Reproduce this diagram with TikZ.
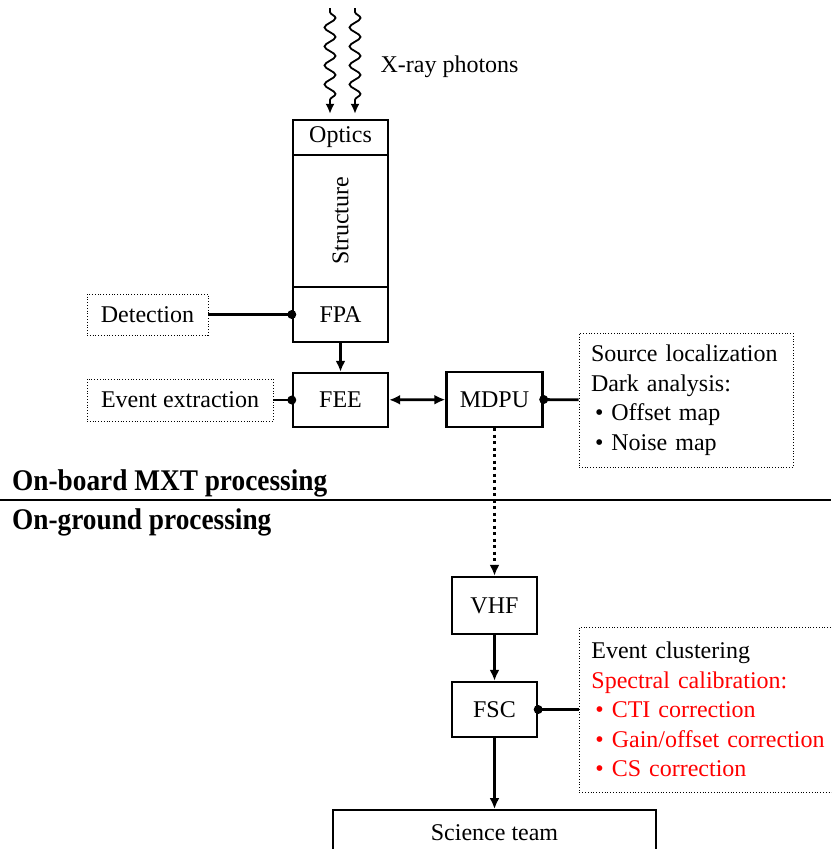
\documentclass[tikz,border=0pt]{standalone}
\usepackage{fontspec}
\setmainfont{Liberation Serif}
\newfontfamily\headfont[FakeStretch=0.91]{Liberation Serif}
\usetikzlibrary{arrows.meta,positioning,decorations.pathmorphing}

\begin{document}
\begin{tikzpicture}[
    x=1pt,y=-1pt,
    font=\fontsize{24}{29.5}\selectfont,
    block/.style={draw,line width=2.4pt,inner sep=0pt,minimum width=95pt},
    note/.style={draw,dotted,line width=0.8pt,inner sep=0pt},
    link/.style={line width=2.8pt},
    flow/.style={line width=2.8pt,-{Latex[length=11pt,width=10pt]}},
    photon/.style={line width=1.8pt,shorten >=5pt,
        decoration={snake,amplitude=5.5pt,segment length=19pt,pre length=4pt,post length=11pt},
        decorate,-{Latex[length=10pt,width=9pt]}},
    head/.style={anchor=base west,inner sep=0pt,font=\headfont\fontsize{30}{32}\selectfont\bfseries},
]
    \path[use as bounding box,clip] (0,0) rectangle (831,849);

    % instrument chain
    \node[block,minimum height=35pt] (optics) at (340.5,137.5) {Optics};
    \node[block,rotate=90,minimum width=132pt,minimum height=95pt] (structure)
        at (340.5,221) {Structure};
    \node[block,minimum height=55pt] (fpa) at (340.5,314.5) {FPA};
    \node[block,minimum height=54pt] (fee) at (340.5,400) {FEE};
    \node[block,minimum width=96pt,minimum height=55pt] (mdpu) at (494.5,399.5) {MDPU};
    \node[block,minimum width=85pt,minimum height=57pt] (vhf) at (494.5,605.5) {VHF};
    \node[block,minimum width=85pt,minimum height=55pt] (fsc) at (494.5,709.5) {FSC};
    \node[block,anchor=north,minimum width=323pt,minimum height=44pt] (science)
        at (494.5,809) {Science team};

    % side notes
    \node[note,minimum width=121pt,minimum height=41pt] (detection) at (147.5,314.5) {Detection};
    \node[note,minimum width=186pt,minimum height=42pt] (extraction) at (180,400) {Event extraction};
    \node[note,inner xsep=12pt,text width=190pt,minimum height=134pt,align=left] (dark)
        at (686,400) {Source localization\\Dark analysis:\\
        \hspace{4pt}\textbullet\ Offset map\\\hspace{4pt}\textbullet\ Noise map};
    \node[note,anchor=west,inner xsep=12pt,text width=260pt,minimum height=165pt,align=left] (calib)
        at (579,709.5) {Event clustering\\\textcolor{red}{Spectral calibration:}\\
        \textcolor{red}{\hspace{4pt}\textbullet\ CTI correction}\\
        \textcolor{red}{\hspace{4pt}\textbullet\ Gain/offset correction}\\
        \textcolor{red}{\hspace{4pt}\textbullet\ CS correction}};

    % incoming photons
    \coordinate (ray1) at (330,8);
    \coordinate (ray2) at (355,8);
    \draw[photon] (ray1) -- (ray1 |- optics.north);
    \draw[photon] (ray2) -- (ray2 |- optics.north);
    \node[anchor=base west] (xray) at (377,72) {X-ray photons};

    % connections
    \draw[link] (detection) -- (fpa);
    \fill (fpa.west) circle (4.5pt);
    \draw[flow] (fpa) -- (fee);
    \draw[link] (extraction) -- (fee);
    \fill (fee.west) circle (4.5pt);
    \draw[link,{Latex[length=11pt,width=10pt]}-{Latex[length=11pt,width=10pt]}] (fee) -- (mdpu);
    \draw[link] (mdpu) -- (dark);
    \fill (mdpu.east) circle (4.5pt);
    \draw[flow,dash pattern=on 3pt off 3.5pt] (mdpu) -- (vhf);
    \draw[flow] (vhf) -- (fsc);
    \draw[link] (fsc) -- (calib);
    \fill (fsc.east) circle (4.5pt);
    \draw[flow] (fsc) -- (science);

    % on-board / on-ground split
    \coordinate (sepL) at (0,500);
    \coordinate (sepR) at (831,500);
    \draw[line width=2.8pt] (sepL) -- (sepR);
    \node[head] (onboard) at (12,490) {On-board MXT processing};
    \node[head] (onground) at (12,529) {On-ground processing};
\end{tikzpicture}
\end{document}
